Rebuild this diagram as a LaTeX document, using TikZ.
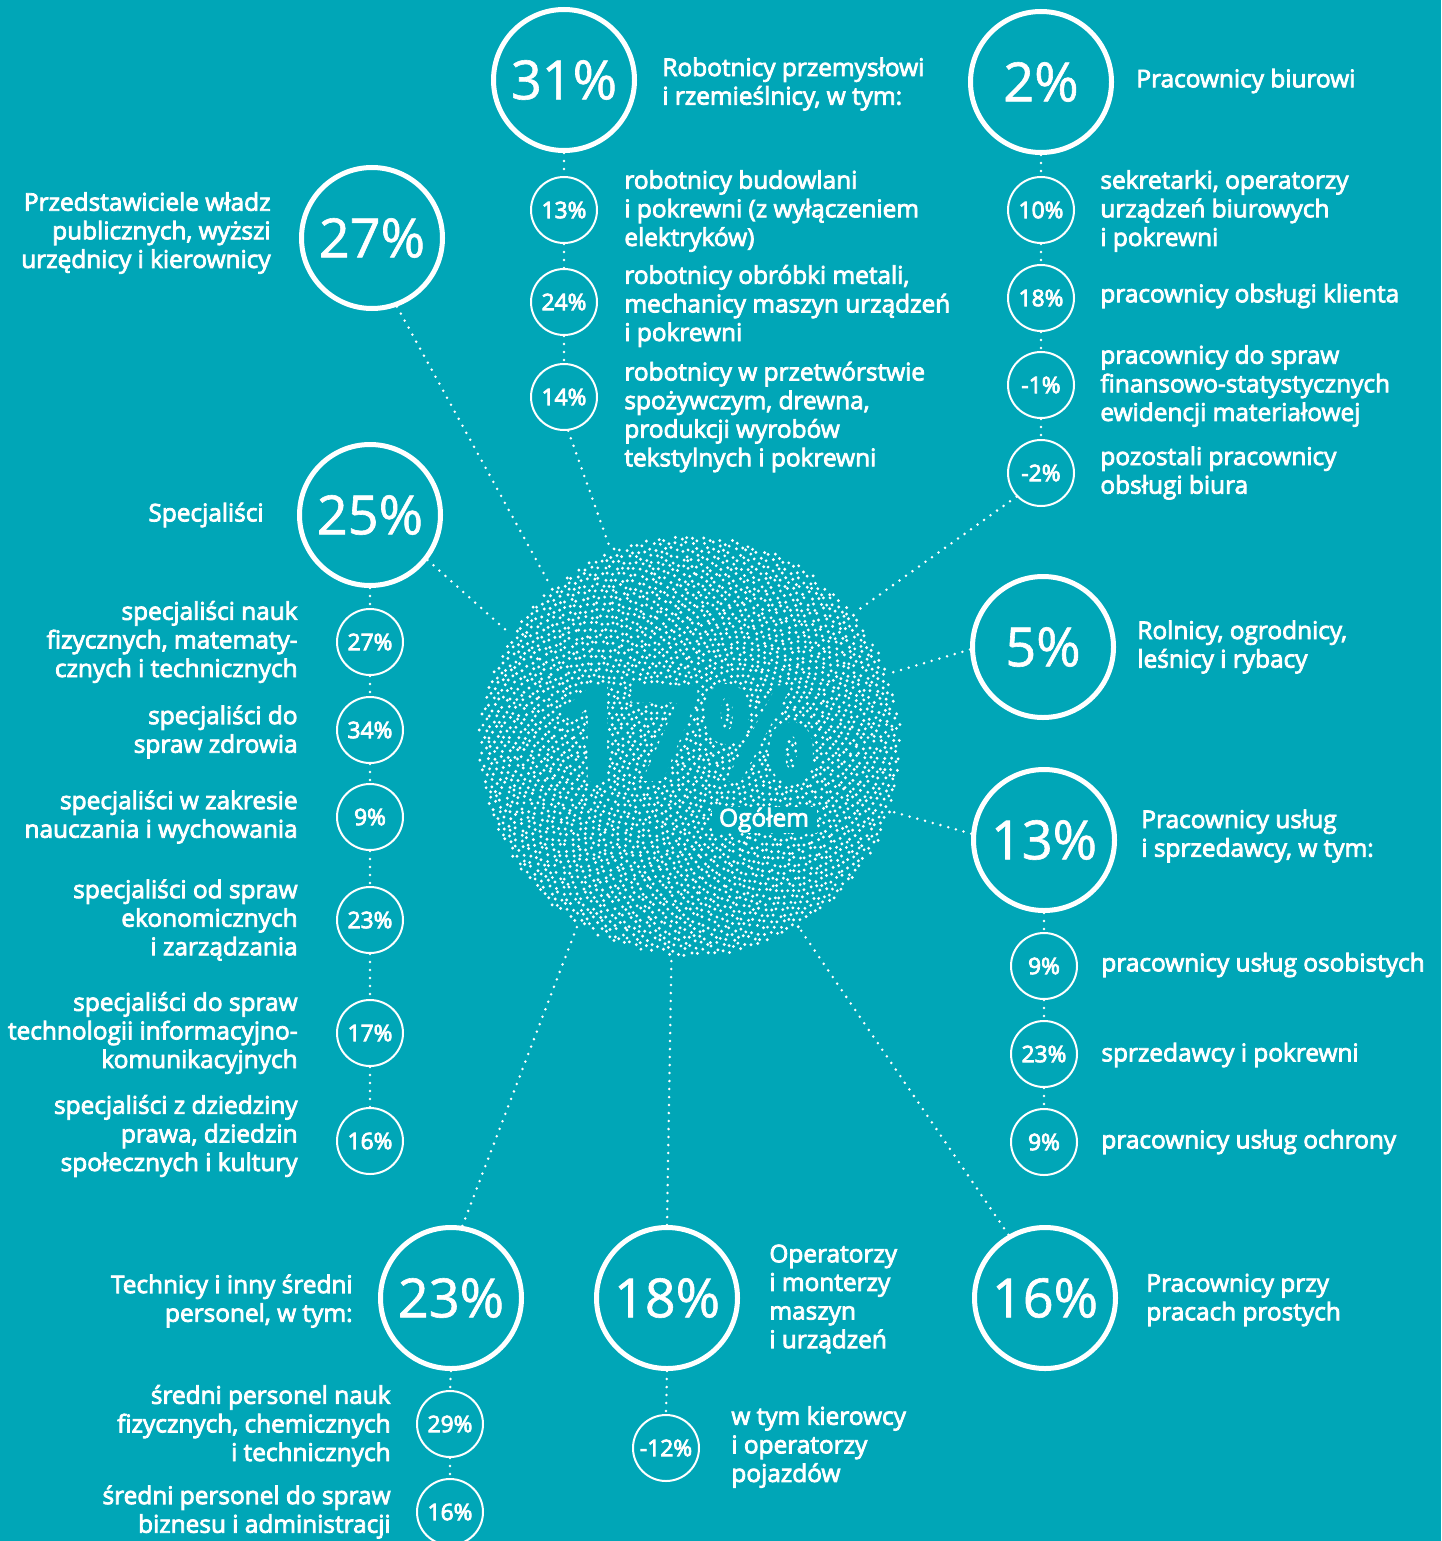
\documentclass[tikz,border=0pt]{standalone}
\usepackage{fontspec}
\setmainfont{Open Sans}
\newcommand\heavytext[1]{\special{pdf:literal direct 2 Tr #1 w}}
\definecolor{bg}{HTML}{00A6B7}
\begin{document}
\begin{tikzpicture}[x=0.5pt,y=-0.5pt,
  big/.style={circle, draw=white, line width=2.5pt, minimum size=70.5pt, inner sep=0pt, text=white, font=\fontsize{27}{28}\selectfont\heavytext{0.3}},
  small/.style={circle, draw=white, line width=1pt, minimum size=33pt, inner sep=0pt, text=white, font=\fontsize{11.4}{12}\selectfont\heavytext{0.4}},
  lbl/.style={text=white, inner sep=0pt, font=\fontsize{12.2}{14.3}\selectfont\heavytext{0.4}},
  lt/.style={lbl, anchor=west, align=left},
  rt/.style={lbl, anchor=east, align=right},
  dotline/.style={white, line width=1.4pt, line cap=round, dash pattern=on 0pt off 4pt}
]
\fill[bg] (0,0) rectangle (1441,1541);
\useasboundingbox (0,0) rectangle (1441,1541);

% central stippled circle
\pgfmathsetseed{7}
\begin{scope}[shift={(690,746)}]
\foreach \i in {1,...,4000}{
  \pgfmathsetmacro\rr{210*sqrt(\i/4000)}
  \pgfmathsetmacro\tt{\i*0.381966}
  \pgfmathsetmacro\aa{360*(\tt-floor(\tt))}
  \pgfmathsetmacro\px{\rr*cos(\aa)+1.6*rand}
  \pgfmathsetmacro\py{\rr*sin(\aa)+1.6*rand}
  \fill[white] (\px,\py) circle (1.6);
}
\end{scope}
\node[circle, minimum size=213pt, inner sep=0pt] (ctr) at (690,746) {};
\node[text=bg, font=\fontsize{67}{67}\bfseries\selectfont, inner sep=0pt, xscale=0.96] (v17) at (686,734) {17\%};
\node[fill=bg, text=white, inner sep=0pt, minimum width=52.5pt, minimum height=13pt, font=\fontsize{12.2}{14}\selectfont\heavytext{0.4}] (og) at (764,820) {Ogółem};

% big circles
\node[big] (c31) at (564,80) {31\%};
\node[big] (c2) at (1041,82) {2\%};
\node[big] (c27) at (372,238) {27\%};
\node[big] (c25) at (370,515) {25\%};
\node[big] (c5) at (1043,647) {5\%};
\node[big] (c13) at (1044,840) {13\%};
\node[big] (c23) at (451,1298) {23\%};
\node[big] (c18) at (667,1298) {18\%};
\node[big] (c16) at (1045,1298) {16\%};

% small circles
\node[small] (s13) at (564,210) {13\%};
\node[small] (s24) at (564,302) {24\%};
\node[small] (s14) at (564,397) {14\%};
\node[small] (s10) at (1041,210) {10\%};
\node[small] (s18) at (1041,298) {18\%};
\node[small] (sm1) at (1041,385) {-1\%};
\node[small] (sm2) at (1041,473) {-2\%};
\node[small] (l27) at (370,642) {27\%};
\node[small] (l34) at (370,730) {34\%};
\node[small] (l9) at (370,817) {9\%};
\node[small] (l23) at (370,920) {23\%};
\node[small] (l17) at (370,1033) {17\%};
\node[small] (l16) at (370,1141) {16\%};
\node[small] (r9a) at (1044,966) {9\%};
\node[small] (r23) at (1044,1054) {23\%};
\node[small] (r9b) at (1044,1142) {9\%};
\node[small] (b29) at (450,1424) {29\%};
\node[small] (b16) at (450,1512) {16\%};
\node[small] (m12) at (666,1448) {-12\%};

% chains
\draw[dotline] (c31.south) -- (s13.north);
\draw[dotline] (s13.south) -- (s24.north);
\draw[dotline] (s24.south) -- (s14.north);
\draw[dotline] (c2.south) -- (s10.north);
\draw[dotline] (s10.south) -- (s18.north);
\draw[dotline] (s18.south) -- (sm1.north);
\draw[dotline] (sm1.south) -- (sm2.north);
\draw[dotline] (c25.south) -- (l27.north);
\draw[dotline] (l27.south) -- (l34.north);
\draw[dotline] (l34.south) -- (l9.north);
\draw[dotline] (l9.south) -- (l23.north);
\draw[dotline] (l23.south) -- (l17.north);
\draw[dotline] (l17.south) -- (l16.north);
\draw[dotline] (c13.south) -- (r9a.north);
\draw[dotline] (r9a.south) -- (r23.north);
\draw[dotline] (r23.south) -- (r9b.north);
\draw[dotline] (c23.south) -- (b29.north);
\draw[dotline] (b29.south) -- (b16.north);
\draw[dotline] (c18.south) -- (m12.north);

% to the centre
\draw[dotline] (c27.-70) -- (ctr.131);
\draw[dotline] (s14.-83) -- (ctr.112);
\draw[dotline] (sm2.-136) -- (ctr.39);
\draw[dotline] (c25.-38) -- (ctr.148);
\draw[dotline] (c5.182) -- (ctr.20);
\draw[dotline] (c13.175) -- (ctr.-18);
\draw[dotline] (c16.120) -- (ctr.-59);
\draw[dotline] (c18.north) -- (ctr.-95);
\draw[dotline] (c23.81) -- (ctr.-122);

% labels
\node[lt] (t31) at (662,84) {Robotnicy przemysłowi\\i rzemieślnicy, w tym:};
\node[lt] (ts13) at (624,211) {robotnicy budowlani\\i pokrewni (z wyłączeniem\\elektryków)};
\node[lt] (ts24) at (624,306) {robotnicy obróbki metali,\\mechanicy maszyn urządzeń\\i pokrewni};
\node[lt] (ts14) at (624,417) {robotnicy w przetwórstwie\\spożywczym, drewna,\\produkcji wyrobów\\tekstylnych i pokrewni};
\node[lt] (t2) at (1136,81) {Pracownicy biurowi};
\node[lt] (ts10) at (1100,211) {sekretarki, operatorzy\\urządzeń biurowych\\i pokrewni};
\node[lt] (ts18) at (1100,296) {pracownicy obsługi klienta};
\node[lt] (tsm1) at (1100,386) {pracownicy do spraw\\finansowo-statystycznych\\ewidencji materiałowej};
\node[lt] (tsm2) at (1100,473) {pozostali pracownicy\\obsługi biura};
\node[rt] (t27) at (271,233) {Przedstawiciele władz\\publicznych, wyższi\\urzędnicy i kierownicy};
\node[rt] (t25) at (264,515) {Specjaliści};
\node[rt] (tl27) at (298,642) {specjaliści nauk\\fizycznych, matematy-\\cznych i technicznych};
\node[rt] (tl34) at (298,732) {specjaliści do\\spraw zdrowia};
\node[rt] (tl9) at (298,817) {specjaliści w zakresie\\nauczania i wychowania};
\node[rt] (tl23) at (298,920) {specjaliści od spraw\\ekonomicznych\\i zarządzania};
\node[rt] (tl17) at (298,1033) {specjaliści do spraw\\technologii informacyjno-\\komunikacyjnych};
\node[rt] (tl16) at (298,1136) {specjaliści z dziedziny\\prawa, dziedzin\\społecznych i kultury};
\node[lt] (t5) at (1137,647) {Rolnicy, ogrodnicy,\\leśnicy i rybacy};
\node[lt] (t13) at (1141,836) {Pracownicy usług\\i sprzedawcy, w tym:};
\node[lt] (tr9a) at (1101,965) {pracownicy usług osobistych};
\node[lt] (tr23) at (1101,1055) {sprzedawcy i pokrewni};
\node[lt] (tr9b) at (1101,1142) {pracownicy usług ochrony};
\node[rt] (t23) at (353,1301) {Technicy i inny średni\\personel, w tym:};
\node[lt] (t18) at (769,1299) {Operatorzy\\i monterzy\\maszyn\\i urządzeń};
\node[lt] (t16) at (1146,1300) {Pracownicy przy\\pracach prostych};
\node[rt] (tb29) at (391,1426) {średni personel nauk\\fizycznych, chemicznych\\i technicznych};
\node[rt] (tb16) at (391,1512) {średni personel do spraw\\biznesu i administracji};
\node[lt] (tm12) at (731,1447) {w tym kierowcy\\i operatorzy\\pojazdów};
\end{tikzpicture}
\end{document}
